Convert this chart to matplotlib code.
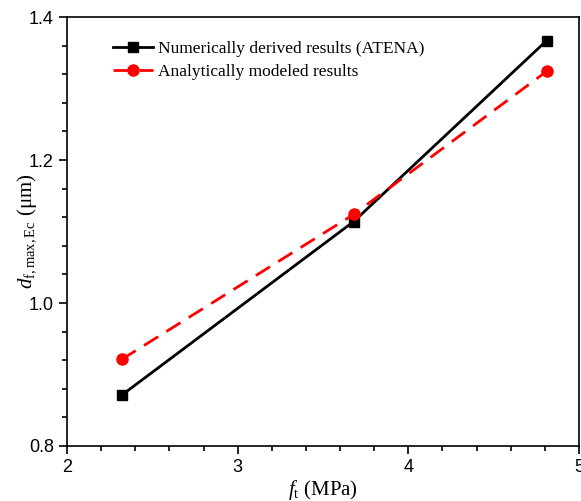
import matplotlib
matplotlib.use("Agg")
import matplotlib.pyplot as plt
from matplotlib.ticker import MultipleLocator

# data
ft = [2.32, 3.68, 4.81]
d_atena = [0.871, 1.114, 1.367]
d_model = [0.921, 1.124, 1.324]

plt.rcParams['mathtext.fontset'] = 'custom'
plt.rcParams['mathtext.rm'] = 'Liberation Serif'
plt.rcParams['mathtext.it'] = 'Liberation Serif:italic'

fig = plt.figure(figsize=(5.81, 5.01), dpi=100)
ax = fig.add_axes([0.1153, 0.1098, 0.8813, 0.8562])

ax.plot(ft, d_atena, color='black', lw=2, marker='s', ms=7,
        label='Numerically derived results (ATENA)')
ax.plot(ft, d_model, color='red', lw=2, ls=(0, (6, 3.5)), marker='o', ms=8,
        label='Analytically modeled results')

ax.set_xlim(2, 5)
ax.set_ylim(0.8, 1.4)
ax.xaxis.set_major_locator(MultipleLocator(1))
ax.xaxis.set_minor_locator(MultipleLocator(0.2))
ax.yaxis.set_major_locator(MultipleLocator(0.2))
ax.yaxis.set_minor_locator(MultipleLocator(0.04))
ax.tick_params(which='both', direction='out', top=False, right=False, width=1.2)
ax.tick_params(which='major', length=6, labelsize=13)
ax.tick_params(which='minor', length=3.5)
for lab in ax.get_xticklabels() + ax.get_yticklabels():
    lab.set_fontfamily('Liberation Sans')
for sp in ax.spines.values():
    sp.set_linewidth(1.2)

ax.set_xlabel(r'$\mathit{f}_{\mathrm{t}}$ (MPa)', fontsize=15,
              fontfamily='Liberation Serif', labelpad=1)
ax.set_ylabel(r'$\mathit{d}_{\mathrm{f,max,Ec}}$ ($\mathrm{\mu}$m)', fontsize=15,
              fontfamily='Liberation Serif')
ax.yaxis.set_label_coords(-0.055, 0.5)

leg = ax.legend(loc='upper left', bbox_to_anchor=(0.06, 0.98), frameon=False,
                prop={'family': 'Liberation Serif', 'size': 12.5},
                handlelength=2.3, handletextpad=0.3, labelspacing=0.35)

fig.savefig('out.png', dpi=100)
